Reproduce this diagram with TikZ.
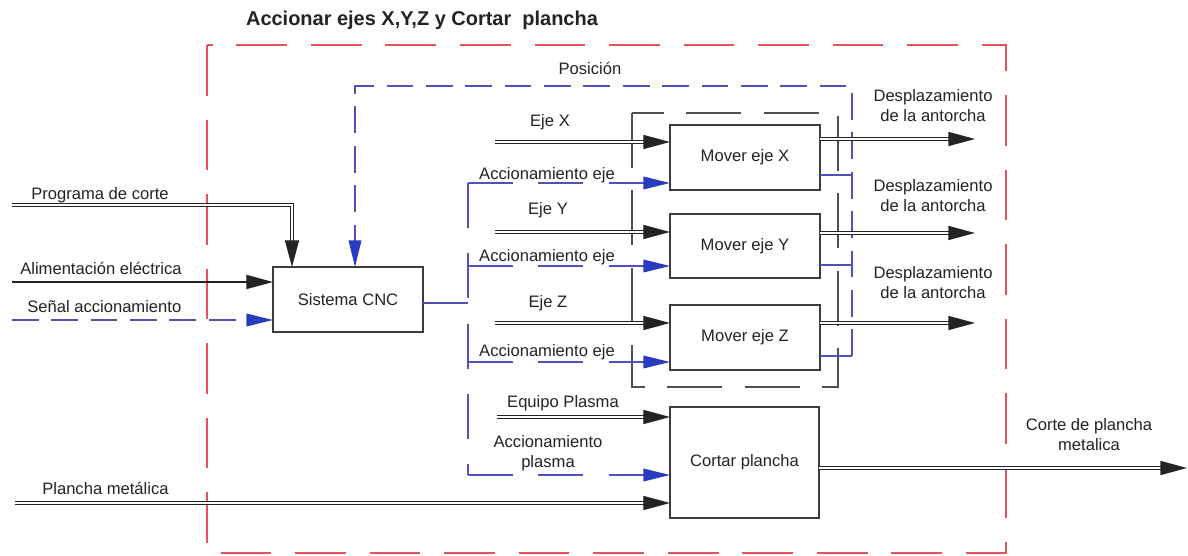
\documentclass[tikz,border=0pt]{standalone}
\usepackage{fontspec}
\setmainfont{Liberation Sans}
\usetikzlibrary{arrows.meta}
\definecolor{ink}{RGB}{35,35,35}
\definecolor{boxc}{RGB}{60,60,60}
\definecolor{blu}{RGB}{80,80,190}
\definecolor{bluarr}{RGB}{40,60,190}
\definecolor{redc}{RGB}{232,80,90}
\definecolor{grayc}{RGB}{80,80,80}
\begin{document}
\begin{tikzpicture}[x=0.025cm,y=-0.025cm,
  every node/.style={font=\fontsize{11.8}{14.2}\selectfont, text=ink},
  lbl/.style={inner sep=0pt, align=center},
  proc/.style={draw=boxc, line width=1.1pt, fill=white, minimum width=3.75cm, minimum height=1.625cm, inner sep=0pt, outer sep=0pt},
  dbl/.style={draw=ink, double=white, double distance=1.2pt, line width=1pt},
  blkarr/.style={-{Triangle[length=19pt,width=10pt]}},
  single/.style={draw=ink, line width=1pt},
  bluarrow/.style={-{Triangle[length=19pt,width=9pt,color=bluarr]}},
  bluline/.style={draw=blu, line width=1.1pt},
  bluelong/.style={bluline, dash pattern=on 32pt off 18pt},
  blueshort/.style={bluline, dash pattern=on 19pt off 9pt},
  reddash/.style={draw=redc, line width=1.3pt, dash pattern=on 36pt off 17pt},
  graydash/.style={draw=grayc, line width=1.1pt, dash pattern=on 39pt off 16pt}
]
\fill[white] (0,0) rectangle (1188,556);
\useasboundingbox (0,0) rectangle (1188,556);

% enclosing boxes
\draw[reddash] (207,45) rectangle (1006,553);
\draw[graydash] (632,113) rectangle (838,387);

% title and labels
\node[lbl, font=\bfseries\fontsize{14.2}{17}\selectfont] (title) at (422,20) {Accionar ejes X,Y,Z y Cortar~ plancha};
\node[lbl] (lpos) at (590,68) {Posición};

% process nodes
\node[proc] (cnc) at (348,299.5) {Sistema CNC};
\node[proc] (mx) at (745,157.5) {Mover eje X};
\node[proc, minimum height=1.6cm] (my) at (745,246) {Mover eje Y};
\node[proc] (mz) at (745,337.5) {Mover eje Z};
\node[proc, minimum width=3.725cm, minimum height=2.775cm] (cp) at (744.5,462.5) {Cortar plancha};

% coordinates
\coordinate (pgm) at (12,205);
\coordinate (pgmC) at (292,205);
\coordinate (ali) at (12,282);
\coordinate (sen) at (12,320);
\coordinate (pla) at (15,503);
\coordinate (inX) at (495,142);
\coordinate (inY) at (495,232);
\coordinate (inZ) at (495,323);
\coordinate (inP) at (497,417);
\coordinate (outX) at (975,139);
\coordinate (outY) at (975,233);
\coordinate (outZ) at (975,323);
\coordinate (outP) at (1187,468);
\coordinate (fbX) at (852,175);
\coordinate (fbY) at (852,265);
\coordinate (fbZ) at (852,356);
\coordinate (fbTop) at (852,86);
\coordinate (posC) at (355,86);
\coordinate (bj) at (468,303);
\coordinate (bv1) at (468,183);
\coordinate (bv2) at (468,266);
\coordinate (bv3) at (468,362);
\coordinate (bv4) at (468,475);

% left inputs
\draw[dbl, blkarr] (pgm) -- (pgmC) -- (pgmC |- cnc.north);
\draw[single, blkarr] (ali) -- (ali -| cnc.west);
\draw[blueshort, bluarrow] (sen) -- (sen -| cnc.west);
\draw[dbl, blkarr] (pla) -- (pla -| cp.west);
\node[lbl, anchor=west] (lpgm) at (31,195) {Programa de corte};
\node[lbl, anchor=west] (lali) at (20,268) {Alimentación eléctrica};
\node[lbl, anchor=west] (lsen) at (27,307) {Señal accionamiento};
\node[lbl, anchor=west] (lpla) at (42,488) {Plancha metálica};

% posicion feedback
\draw[bluline] (fbX -| mx.east) -- (fbX);
\draw[bluline] (fbY -| my.east) -- (fbY);
\draw[bluline] (fbZ -| mz.east) -- (fbZ);
\draw[blueshort, bluarrow] (fbZ) -- (fbTop) -- (posC) -- (posC |- cnc.north);

% CNC branches
\draw[bluline] (bj -| cnc.east) -- (bj);
\draw[bluelong] (bv1) -- (bv4);
\draw[bluelong, bluarrow] (bv1) -- (bv1 -| mx.west);
\draw[bluelong, bluarrow] (bv2) -- (bv2 -| my.west);
\draw[bluelong, bluarrow] (bv3) -- (bv3 -| mz.west);
\draw[bluelong, bluarrow] (bv4) -- (bv4 -| cp.west);

% axis inputs
\draw[dbl, blkarr] (inX) -- (inX -| mx.west);
\draw[dbl, blkarr] (inY) -- (inY -| my.west);
\draw[dbl, blkarr] (inZ) -- (inZ -| mz.west);
\draw[dbl, blkarr] (inP) -- (inP -| cp.west);
\node[lbl] (lex) at (550,122) {Eje X};
\node[lbl] (ley) at (548,210) {Eje Y};
\node[lbl] (lez) at (548,303) {Eje Z};
\node[lbl] (lax) at (547,175) {Accionamiento eje};
\node[lbl] (lay) at (547,257) {Accionamiento eje};
\node[lbl] (laz) at (547,352) {Accionamiento eje};
\node[lbl] (leq) at (563,403) {Equipo Plasma};
\node[lbl] (lap) at (548,453) {Accionamiento\\plasma};

% outputs
\draw[dbl, blkarr] (outX -| mx.east) -- (outX);
\draw[dbl, blkarr] (outY -| my.east) -- (outY);
\draw[dbl, blkarr] (outZ -| mz.east) -- (outZ);
\draw[dbl, blkarr] (outP -| cp.east) -- (outP);
\node[lbl] (ldx) at (933,106) {Desplazamiento\\de la antorcha};
\node[lbl] (ldy) at (933,196) {Desplazamiento\\de la antorcha};
\node[lbl] (ldz) at (933,283) {Desplazamiento\\de la antorcha};
\node[lbl] (lcp) at (1089,435) {Corte de plancha\\metalica};
\end{tikzpicture}
\end{document}
